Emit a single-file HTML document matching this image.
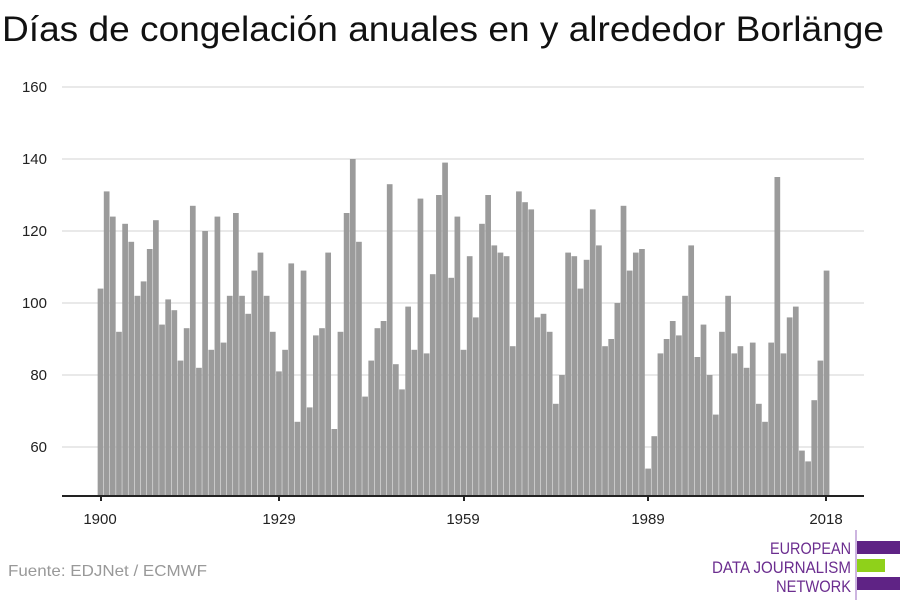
<!DOCTYPE html>
<html><head><meta charset="utf-8"><style>
body{margin:0;background:#fff;}
svg{display:block;font-family:"Liberation Sans",sans-serif;}
</style></head><body>
<svg id="s" width="900" height="600" xmlns="http://www.w3.org/2000/svg">
<text x="2" y="41" font-size="35" fill="#111" textLength="882" lengthAdjust="spacingAndGlyphs">Días de congelación anuales en y alrededor Borlänge</text>
<g id="grid"></g>
<g id="bars" fill="#9b9b9b"></g>
<line x1="62" y1="496" x2="864" y2="496" stroke="#222" stroke-width="2"/>
<g font-size="15" fill="#222" text-anchor="middle">
<text x="100" y="524">1900</text><text x="279" y="524">1929</text><text x="463" y="524">1959</text><text x="648" y="524">1989</text><text x="826" y="524">2018</text>
</g>
<g stroke="#222" stroke-width="2"><line x1="101" y1="496" x2="101" y2="501"/><line x1="279" y1="496" x2="279" y2="501"/><line x1="464" y1="496" x2="464" y2="501"/><line x1="648" y1="496" x2="648" y2="501"/><line x1="826" y1="496" x2="826" y2="501"/></g>
<text x="8" y="576" font-size="16" fill="#999" textLength="199" lengthAdjust="spacingAndGlyphs">Fuente: EDJNet / ECMWF</text>
<line x1="856" y1="530" x2="856" y2="600" stroke="#9b6bc0" stroke-width="1"/>
<g font-size="17" fill="#6b2d8f">
<text x="770" y="554" textLength="81" lengthAdjust="spacingAndGlyphs">EUROPEAN</text><text x="712" y="573" textLength="139" lengthAdjust="spacingAndGlyphs">DATA JOURNALISM</text><text x="776" y="592" textLength="75" lengthAdjust="spacingAndGlyphs">NETWORK</text>
</g>
<rect x="857" y="541" width="43" height="13" fill="#5f2385"/>
<rect x="857" y="559" width="28" height="13" fill="#8fd11a"/>
<rect x="857" y="577" width="43" height="13" fill="#5f2385"/>
</svg>
<script>
var v=[104,131,124,92,122,117,102,106,115,123,94,101,98,84,93,127,82,120,87,124,89,102,125,102,97,109,114,102,92,81,87,111,67,109,71,91,93,114,65,92,125,140,117,74,84,93,95,133,83,76,99,87,129,86,108,130,139,107,124,87,113,96,122,130,116,114,113,88,131,128,126,96,97,92,72,80,114,113,104,112,126,116,88,90,100,127,109,114,115,54,63,86,90,95,91,102,116,85,94,80,69,92,102,86,88,82,89,72,67,89,135,86,96,99,59,56,73,84,109];
var ns="http://www.w3.org/2000/svg",g=document.getElementById('grid'),b=document.getElementById('bars');
[60,80,100,120,140,160].forEach(function(t){var y=447-(t-60)*3.6;
var l=document.createElementNS(ns,'line');l.setAttribute('x1',62);l.setAttribute('x2',864);l.setAttribute('y1',y);l.setAttribute('y2',y);l.setAttribute('stroke','#e2e2e2');l.setAttribute('stroke-width','1.5');g.appendChild(l);
var tx=document.createElementNS(ns,'text');tx.setAttribute('x',47);tx.setAttribute('y',y+5);tx.setAttribute('font-size','15');tx.setAttribute('fill','#222');tx.setAttribute('text-anchor','end');tx.textContent=t;g.appendChild(tx);});
v.forEach(function(d,i){var cx=100.5+i*6.153,y=447-(d-60)*3.6;var r=document.createElementNS(ns,'rect');r.setAttribute('x',cx-2.85);r.setAttribute('width',5.7);r.setAttribute('y',y);r.setAttribute('height',496-y);b.appendChild(r);});
</script>
</body></html>
